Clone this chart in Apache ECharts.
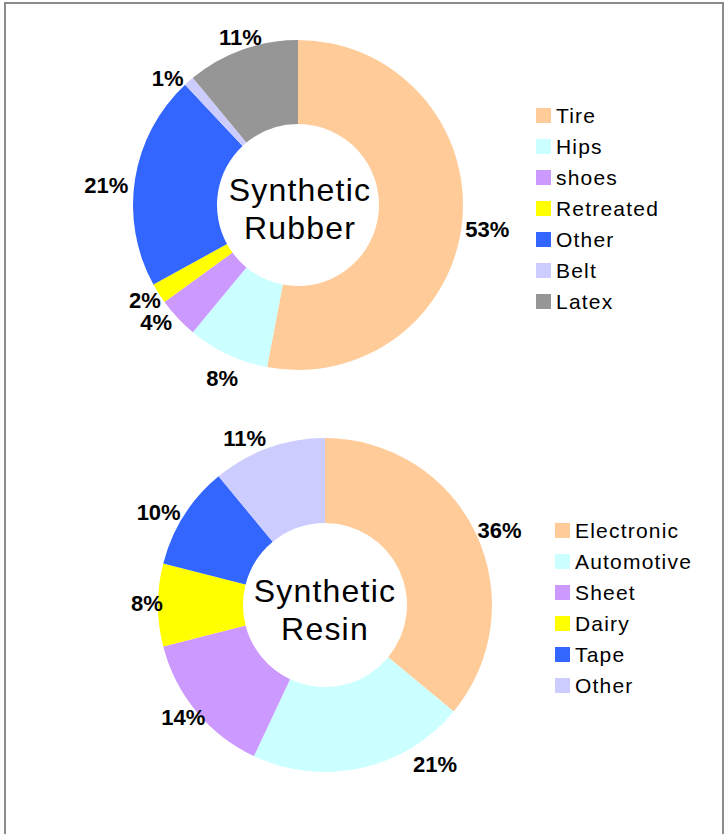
<!DOCTYPE html>
<html>
<head>
<meta charset="utf-8">
<script src="https://cdn.jsdelivr.net/npm/echarts@6/dist/echarts.min.js"></script>
<style>
  html, body { margin: 0; padding: 0; background: #fff; }
  #frame { position: absolute; left: 4px; top: 2px; width: 716px; height: 840px; border: 2px solid #8c8c8c; box-sizing: content-box; }
  #chart { position: absolute; left: 0; top: 0; width: 728px; height: 834px; }
  #chart text { letter-spacing: 1.2px; }
  #chart text[style*="bold"] { letter-spacing: 0; }
</style>
</head>
<body>
<div id="frame"></div>
<div id="chart"></div>
<script>
// Synthetic Rubber
var rubberCategories = ['Tire', 'Hips', 'shoes', 'Retreated', 'Other', 'Belt', 'Latex'];
var rubberValues = [53, 8, 4, 2, 21, 1, 11];
var rubberColors = ['#FFCC99', '#CCFFFF', '#CC99FF', '#FFFF00', '#3366FF', '#CCCCFF', '#969696'];

// Synthetic Resin
var resinCategories = ['Electronic', 'Automotive', 'Sheet', 'Dairy', 'Tape', 'Other '];
var resinValues = [36, 21, 14, 8, 10, 11];
var resinColors = ['#FFCC99', '#CCFFFF', '#CC99FF', '#FFFF00', '#3366FF', '#CCCCFF'];

// label placement nudges (layout only, pixels)
var rubberLabelNudge = [[0, 7], [8, 6], [-2, -9], [8, -4], [-4, 9], [-3, 12], [10, 7]];
var resinLabelNudge = [[3, 4], [65, -20], [5, -5], [11, -2], [-6, 6], [-13, 7]];

var FONT = '"Liberation Sans", Arial, sans-serif';

function buildData(names, values, colors) {
  return names.map(function (n, i) {
    return { name: n, value: values[i], itemStyle: { color: colors[i] } };
  });
}

function pieSeries(name, names, values, colors, center, radius, lineLen, nudge) {
  return {
    type: 'pie',
    name: name,
    center: center,
    radius: radius,
    startAngle: 90,
    clockwise: true,
    avoidLabelOverlap: false,
    silent: true,
    animation: false,
    label: {
      show: true,
      position: 'outside',
      formatter: '{c}%',
      fontFamily: FONT,
      fontWeight: 'bold',
      fontSize: 22,
      color: '#000'
    },
    labelLine: { show: false, length: lineLen, length2: 0 },
    labelLayout: function (p) {
      var n = nudge[p.dataIndex] || [0, 0];
      return { align: 'center', verticalAlign: 'middle', dx: n[0], dy: n[1] };
    },
    itemStyle: { borderWidth: 0 },
    emphasis: { disabled: true },
    data: buildData(names, values, colors)
  };
}

var chart = echarts.init(document.getElementById('chart'), null, { renderer: 'svg' });

var legendText = { fontFamily: FONT, fontSize: 21, color: '#000' };

chart.setOption({
  animation: false,
  legend: [
    {
      orient: 'vertical',
      left: 536, top: 105, padding: 0,
      itemWidth: 15, itemHeight: 15, itemGap: 10,
      icon: 'rect',
      selectedMode: false,
      textStyle: legendText,
      data: rubberCategories
    },
    {
      orient: 'vertical',
      left: 555, top: 520, padding: 0,
      itemWidth: 15, itemHeight: 15, itemGap: 10,
      icon: 'rect',
      selectedMode: false,
      textStyle: legendText,
      formatter: function (n) { return n.trim(); },
      data: resinCategories
    }
  ],
  graphic: [
    {
      type: 'text', x: 300, y: 209, z: 100,
      style: { text: 'Synthetic\nRubber', font: '32px ' + FONT, fill: '#000', textAlign: 'center', textVerticalAlign: 'middle', lineHeight: 38 }
    },
    {
      type: 'text', x: 325, y: 610, z: 100,
      style: { text: 'Synthetic\nResin', font: '32px ' + FONT, fill: '#000', textAlign: 'center', textVerticalAlign: 'middle', lineHeight: 38 }
    }
  ],
  series: [
    pieSeries('Synthetic Rubber', rubberCategories, rubberValues, rubberColors, [298, 205], [81, 165], 20, rubberLabelNudge),
    pieSeries('Synthetic Resin', resinCategories, resinValues, resinColors, [325, 605], [82, 167], 17, resinLabelNudge)
  ]
});
</script>
</body>
</html>
